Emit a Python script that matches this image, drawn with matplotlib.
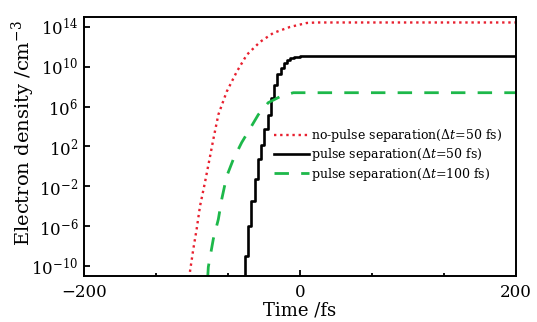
import numpy as np
import matplotlib
matplotlib.use("Agg")
import matplotlib.pyplot as plt
from matplotlib.ticker import FixedLocator, NullLocator, LogFormatterMathtext

# exponents (log10 of electron density)
t_nosep = [-102.5, -101.8, -98.8, -95.7, -92.6, -88.0, -83.3, -80.3, -75.6,
           -67.9, -58.6, -49.3, -37.0, -24.7, -9.3, 6.2, 15.5, 200.0]
log_nosep = [-11.2, -10.5, -8.3, -6.3, -4.0, -1.6, 1.0, 2.7, 5.2,
             7.5, 9.5, 11.2, 12.5, 13.4, 14.0, 14.4, 14.45, 14.45]

t_sep50 = [-54, -51, -48, -45, -42, -39, -36, -33, -30, -27, -24,
           -21, -18, -15, -12, -9, -6, -3, 0, 3, 200]
log_sep50 = [-13.0, -9.0, -6.0, -3.5, -1.3, 0.7, 2.2, 3.8, 5.2, 6.9, 8.2,
             9.3, 9.9, 10.4, 10.7, 10.9, 11.0, 11.0, 11.05, 11.05, 11.05]

t_sep100 = [-85.5, -84.9, -80.3, -75.6, -72.5, -67.9, -61.8, -54.0, -47.9,
            -38.6, -29.4, -18.5, -6.2, 9.3, 200.0]
log_sep100 = [-11.2, -10.1, -7.3, -5.3, -3.3, -1.0, 0.7, 2.4, 3.5,
              5.2, 6.4, 7.0, 7.4, 7.4, 7.4]

labels = [r"no-pulse separation($\Delta t$=50 fs)",
          r"pulse separation($\Delta t$=50 fs)",
          r"pulse separation($\Delta t$=100 fs)"]

plt.rcParams["font.family"] = "DejaVu Serif"
plt.rcParams["mathtext.fontset"] = "dejavuserif"

fig = plt.figure(figsize=(5.37, 3.22), dpi=100)
ax = fig.add_axes([0.1564, 0.1429, 0.8046, 0.8043])

ax.plot(t_nosep, 10.0 ** np.array(log_nosep), color="#e8202f", lw=1.7,
        linestyle=(0, (1, 1.6)), label=labels[0])
ax.plot(t_sep50, 10.0 ** np.array(log_sep50), color="black", lw=1.9,
        drawstyle="steps-post", label=labels[1])
ax.plot(t_sep100, 10.0 ** np.array(log_sep100), color="#1db84a", lw=2.0,
        linestyle=(0, (5.2, 4.4)), label=labels[2])

ax.set_yscale("log")
ax.set_xlim(-200, 200)
ax.set_ylim(1e-11, 1e15)

ax.xaxis.set_major_locator(FixedLocator([-200, 0, 200]))
ax.xaxis.set_minor_locator(FixedLocator([-133.3, -66.7, 66.7, 133.3]))
ax.yaxis.set_major_locator(FixedLocator([1e-10, 1e-6, 1e-2, 1e2, 1e6, 1e10, 1e14]))
ax.yaxis.set_minor_locator(NullLocator())
ax.yaxis.set_major_formatter(LogFormatterMathtext())

ax.tick_params(which="both", direction="in", labelsize=12, width=1.3)
ax.tick_params(which="major", length=4.5)
ax.tick_params(which="minor", length=2.5)
ax.tick_params(axis="x", pad=6)
ax.tick_params(axis="y", pad=4)
for s in ax.spines.values():
    s.set_linewidth(1.4)

ax.set_xlabel("Time /fs", fontsize=13, labelpad=0)
ax.set_ylabel(r"Electron density /cm$^{-3}$", fontsize=14)
ax.yaxis.set_label_coords(-0.108, 0.55)

ax.legend(loc="upper left", bbox_to_anchor=(0.44, 0.575), frameon=False,
          fontsize=9, handlelength=2.8, handletextpad=0.15, labelspacing=0.18,
          borderpad=0, borderaxespad=0)

fig.savefig("out.png", dpi=100)
